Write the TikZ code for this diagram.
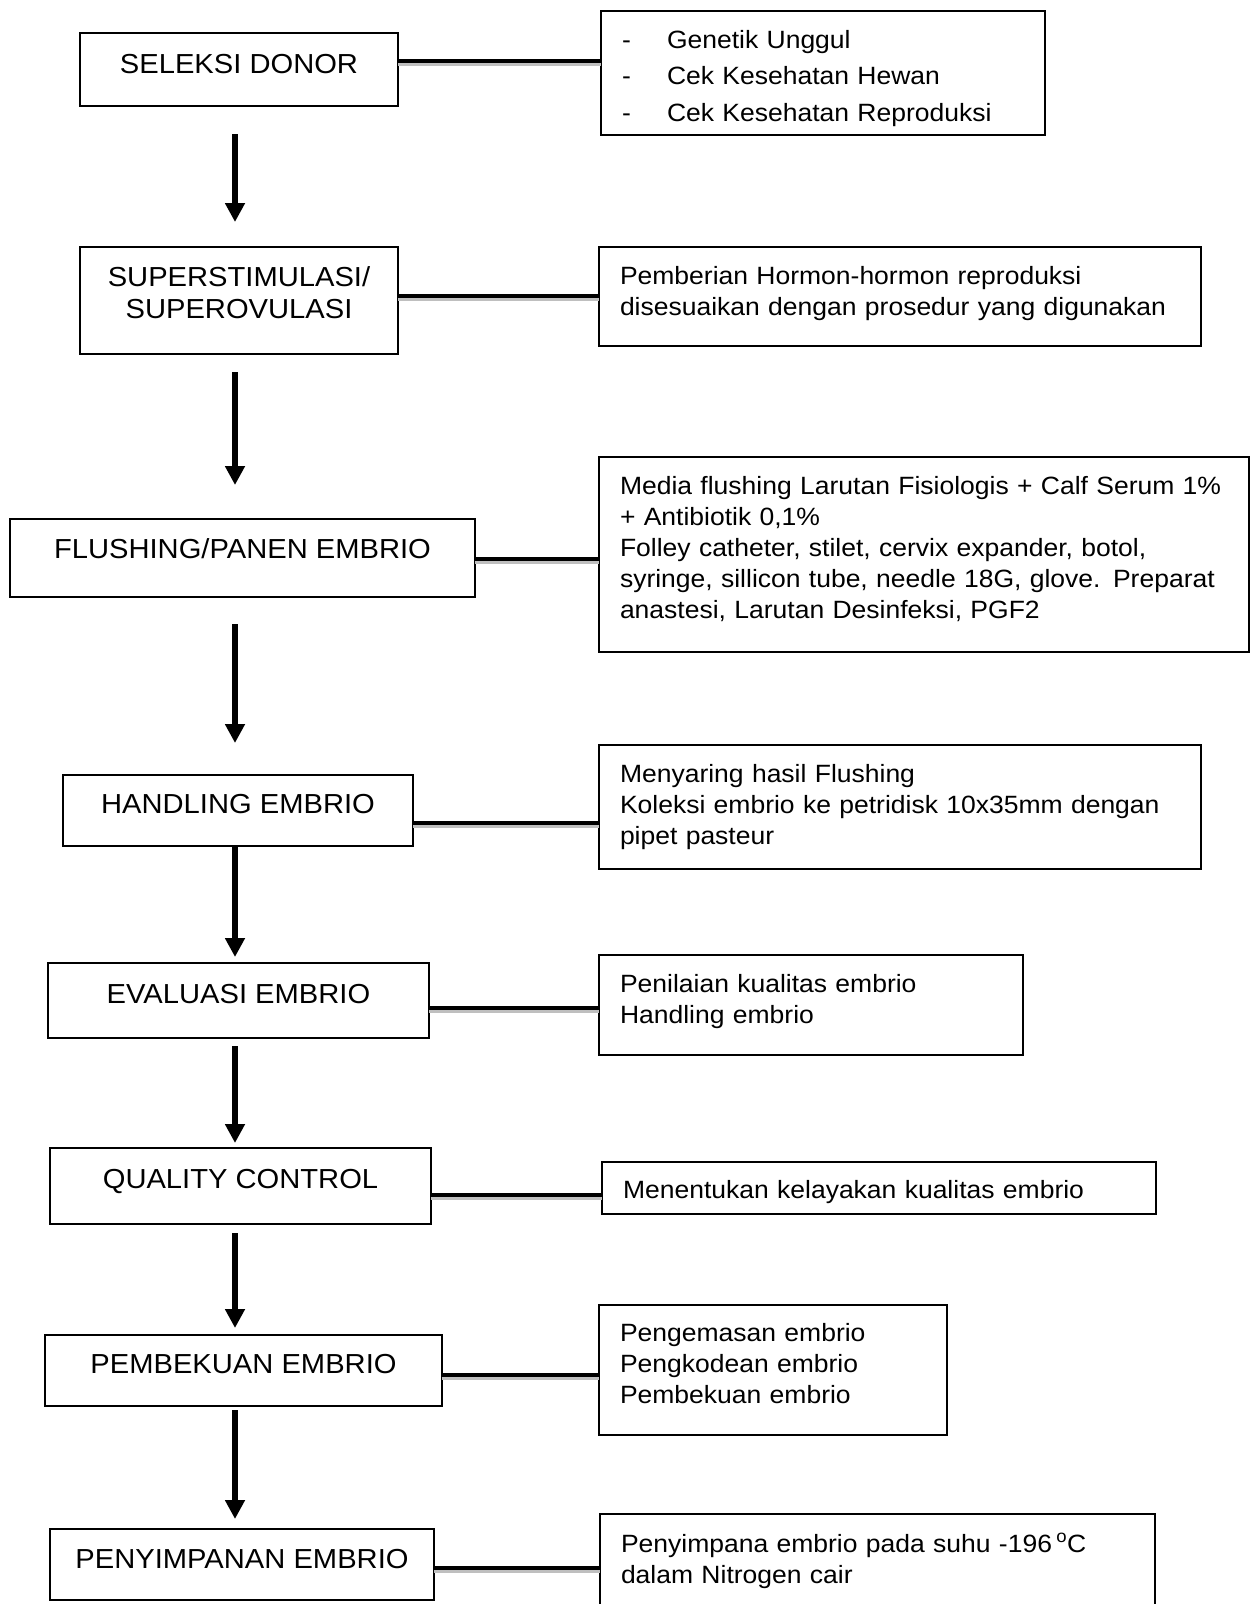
\documentclass[tikz,border=0pt]{standalone}
\usepackage{fontspec}
\setmainfont[FakeStretch=1.06]{Liberation Sans}
\usepackage{tikz}
\usetikzlibrary{arrows.meta}

\begin{document}
\begin{tikzpicture}[x=1pt, y=-1pt]
\tikzstyle{stepbox}=[draw=black, line width=1.3pt, outer sep=0pt, inner xsep=0pt, inner ysep=0pt, anchor=north, align=center, font=\fontsize{27.5}{32}\selectfont]
\tikzstyle{notebox}=[draw=black, line width=1.3pt, outer sep=0pt, inner xsep=21pt, inner ysep=0pt, anchor=north west, align=left, font=\fontsize{25}{31}\selectfont]
\tikzstyle{flow}=[line width=5.5pt, -{Triangle[length=19pt, width=19pt]}]
\tikzstyle{link}=[line width=3.8pt, preaction={draw=black!25, line width=4pt, transform canvas={yshift=-2.5pt}}]

% Page
\useasboundingbox (0,0) rectangle (1256,1604);
\coordinate (spine) at (235,0);

% Steps (left column)
\node[stepbox, minimum width=318pt, text height=40pt, text depth=33pt] (seleksi) at (239,33) {SELEKSI DONOR};
\node[stepbox, minimum width=318pt, text height=71pt, text depth=36pt] (superstim) at (239,247) {SUPERSTIMULASI/\\SUPEROVULASI};
\node[stepbox, minimum width=465pt, text height=39pt, text depth=39pt] (flushing) at (242.5,519) {FLUSHING/PANEN EMBRIO};
\node[stepbox, minimum width=350pt, text height=38pt, text depth=33pt] (handling) at (238,775) {HANDLING EMBRIO};
\node[stepbox, minimum width=381pt, text height=40pt, text depth=35pt] (evaluasi) at (238.5,963) {EVALUASI EMBRIO};
\node[stepbox, minimum width=381pt, text height=40pt, text depth=36pt] (quality) at (240.5,1148) {QUALITY CONTROL};
\node[stepbox, minimum width=397pt, text height=38pt, text depth=33pt] (pembekuan) at (243.5,1335) {PEMBEKUAN EMBRIO};
\node[stepbox, minimum width=384pt, text height=39pt, text depth=32pt] (penyimpanan) at (242,1529) {PENYIMPANAN EMBRIO};

% Notes (right column)
\node[notebox, text width=402pt, text height=37pt, text depth=87pt, font=\fontsize{25}{36.5}\selectfont] (seleksi-note) at (601,11) {\makebox[45pt][l]{-}Genetik Unggul\\\makebox[45pt][l]{-}Cek Kesehatan Hewan\\\makebox[45pt][l]{-}Cek Kesehatan Reproduksi};
\node[notebox, text width=560pt, text height=37pt, text depth=62pt] (superstim-note) at (599,247) {Pemberian Hormon-hormon reproduksi\\disesuaikan dengan prosedur yang digunakan};
\node[notebox, text width=608pt, text height=37pt, text depth=158pt] (flushing-note) at (599,457) {Media flushing Larutan Fisiologis + Calf Serum 1\%\\+ Antibiotik 0,1\%\\Folley catheter, stilet, cervix expander, botol,\\syringe, sillicon tube, needle 18G, glove. Preparat\\anastesi, Larutan Desinfeksi, PGF2};
\node[notebox, text width=560pt, text height=37pt, text depth=87pt] (handling-note) at (599,745) {Menyaring hasil Flushing\\Koleksi embrio ke petridisk 10x35mm dengan\\pipet pasteur};
\node[notebox, text width=382pt, text height=37pt, text depth=63pt] (evaluasi-note) at (599,955) {Penilaian kualitas embrio\\Handling embrio};
\node[notebox, text width=512pt, text height=36pt, text depth=16pt] (quality-note) at (602,1162) {Menentukan kelayakan kualitas embrio};
\node[notebox, text width=306pt, text height=36pt, text depth=94pt] (pembekuan-note) at (599,1305) {Pengemasan embrio\\Pengkodean embrio\\Pembekuan embrio};
\node[notebox, text width=513pt, text height=38pt, text depth=140pt] (penyimpanan-note) at (600,1514) {Penyimpana embrio pada suhu -196\,\textsuperscript{o}C\\dalam Nitrogen cair};

% Links step -> note
\draw[link] (seleksi.east |- 0,61) -- (seleksi-note.west |- 0,61);
\draw[link] (superstim.east |- 0,296) -- (superstim-note.west |- 0,296);
\draw[link] (flushing.east |- 0,559) -- (flushing-note.west |- 0,559);
\draw[link] (handling.east |- 0,823) -- (handling-note.west |- 0,823);
\draw[link] (evaluasi.east |- 0,1008) -- (evaluasi-note.west |- 0,1008);
\draw[link] (quality.east |- 0,1195) -- (quality-note.west |- 0,1195);
\draw[link] (pembekuan.east |- 0,1375) -- (pembekuan-note.west |- 0,1375);
\draw[link] (penyimpanan.east |- 0,1568) -- (penyimpanan-note.west |- 0,1568);

% Flow arrows
\draw[flow, shorten <=28pt, shorten >=25pt] (seleksi.south -| spine) -- (superstim.north -| spine);
\draw[flow, shorten <=18pt, shorten >=34pt] (superstim.south -| spine) -- (flushing.north -| spine);
\draw[flow, shorten <=27pt, shorten >=32pt] (flushing.south -| spine) -- (handling.north -| spine);
\draw[flow, shorten <=1pt, shorten >=6pt] (handling.south -| spine) -- (evaluasi.north -| spine);
\draw[flow, shorten <=8pt, shorten >=5pt] (evaluasi.south -| spine) -- (quality.north -| spine);
\draw[flow, shorten <=9pt, shorten >=7pt] (quality.south -| spine) -- (pembekuan.north -| spine);
\draw[flow, shorten <=4pt, shorten >=10pt] (pembekuan.south -| spine) -- (penyimpanan.north -| spine);
\end{tikzpicture}
\end{document}
